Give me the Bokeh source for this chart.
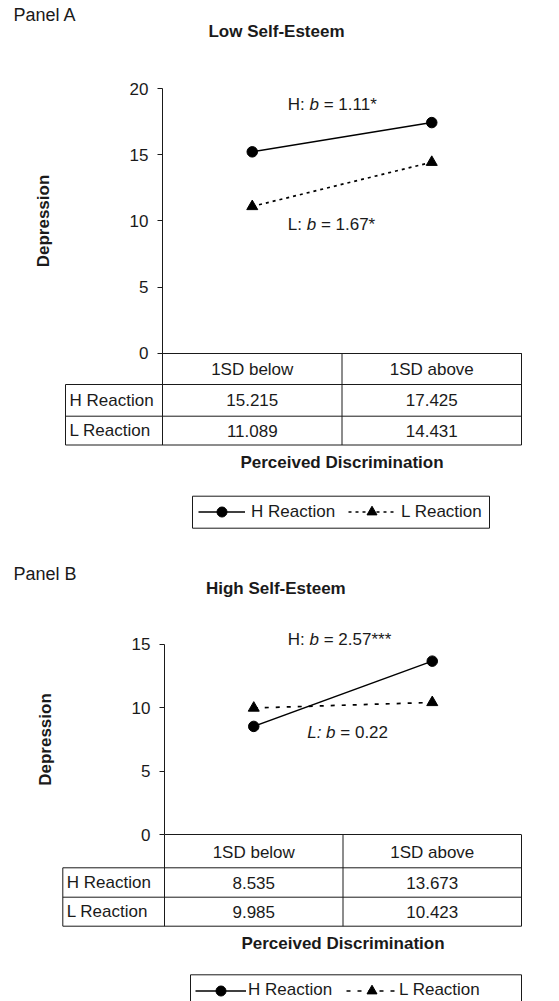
from bokeh.plotting import figure
from bokeh.layouts import column
from bokeh.models import ColumnDataSource, FixedTicker, LinearAxis, Range1d, Legend, LegendItem
from bokeh.core.properties import value
from bokeh.embed import file_html
from bokeh.resources import INLINE

FONT = "Liberation Sans"
INK = "#1a1a1a"

# ---------------- data ----------------
categories = ["1SD below", "1SD above"]
cat_pos = [0.5, 1.5]
row_labels = ["H Reaction", "L Reaction"]
x_title = "Perceived Discrimination"
y_title = "Depression"

panel_a_label = "Panel A"
panel_a_title = "Low Self-Esteem"
panel_a_h = [15.215, 17.425]
panel_a_l = [11.089, 14.431]
panel_a_ticks = [0, 5, 10, 15, 20]
panel_a_h_note = ["H: ", "b", " = 1.11*"]
panel_a_l_note = ["L: ", "b", " = 1.67*"]

panel_b_label = "Panel B"
panel_b_title = "High Self-Esteem"
panel_b_h = [8.535, 13.673]
panel_b_l = [9.985, 10.423]
panel_b_ticks = [0, 5, 10, 15]
panel_b_h_note = ["H: ", "b", " = 2.57***"]
panel_b_l_note = ["L: ", "b", " = 0.22"]

W = 559
FS = 17
EM = {"H": .722, "L": .556, ":": .278, " ": .278, "b": .556, "=": .584, ".": .278, "*": .389}


def text_width(s):
    return sum(EM.get(c, .556) for c in s) * FS


def make_panel(label, title, hv, lv, ticks, h_note, l_note, L, dash, l_italic_prefix):
    H = L["height"]
    ax, right, zero, unit = L["axis_x"], L["right"], L["zero"], L["unit"]
    xu = (right - ax) / 2.0

    def dx(px):
        return (px - ax) / xu

    def dy(py):
        return (zero - py) / unit

    p = figure(width=W, height=H, output_backend="svg", toolbar_location=None,
               x_axis_type=None, y_axis_type=None,
               x_range=Range1d(dx(0), dx(W)), y_range=Range1d(dy(H), dy(0)),
               min_border=0, min_border_left=0, min_border_right=0,
               min_border_top=0, min_border_bottom=0)
    p.outline_line_color = None
    p.xgrid.visible = False
    p.ygrid.visible = False
    p.background_fill_color = "white"

    # y axis
    yaxis = LinearAxis(fixed_location=0, ticker=FixedTicker(ticks=ticks, minor_ticks=[]),
                       bounds=(0, ticks[-1]), axis_label=y_title)
    yaxis.axis_line_color = INK
    yaxis.major_tick_line_color = INK
    yaxis.major_tick_out = 5
    yaxis.major_tick_in = 0
    yaxis.minor_tick_out = 0
    yaxis.minor_tick_in = 0
    yaxis.major_label_standoff = 9
    yaxis.major_label_text_font = FONT
    yaxis.major_label_text_font_size = f"{FS}px"
    yaxis.major_label_text_color = INK
    yaxis.axis_label_text_font = FONT
    yaxis.axis_label_text_font_size = f"{FS}px"
    yaxis.axis_label_text_font_style = "bold"
    yaxis.axis_label_text_color = INK
    yaxis.axis_label_standoff = L["ylab_standoff"]
    p.add_layout(yaxis, "left")

    # x axis (category header of the table)
    xaxis = LinearAxis(fixed_location=0, ticker=FixedTicker(ticks=cat_pos, minor_ticks=[]),
                       bounds=(0, 2), axis_label=x_title,
                       major_label_overrides={cat_pos[0]: categories[0], cat_pos[1]: categories[1]})
    xaxis.axis_line_color = INK
    xaxis.major_tick_out = 0
    xaxis.major_tick_in = 0
    xaxis.minor_tick_out = 0
    xaxis.minor_tick_in = 0
    xaxis.major_label_standoff = L["xtick_standoff"]
    xaxis.major_label_text_font = FONT
    xaxis.major_label_text_font_size = f"{FS}px"
    xaxis.major_label_text_color = INK
    xaxis.axis_label_text_font = FONT
    xaxis.axis_label_text_font_size = f"{FS}px"
    xaxis.axis_label_text_font_style = "bold"
    xaxis.axis_label_text_color = INK
    xaxis.axis_label_standoff = L["xlab_standoff"]
    p.add_layout(xaxis, "below")

    # table grid
    r = [dy(zero + v) for v in L["rows"]]
    lc = dx(L["left_col"])
    x0s = [lc, lc, lc, 0, 1, 2, lc]
    x1s = [2, 2, 2, 0, 1, 2, lc]
    y0s = [r[1], r[2], r[3], r[0], r[0], r[0], r[1]]
    y1s = [r[1], r[2], r[3], r[3], r[3], r[3], r[3]]
    p.segment(x0=x0s, y0=y0s, x1=x1s, y1=y1s, line_color=INK, line_width=1)

    # table text
    vals = [f"{v:.3f}" for v in hv] + [f"{v:.3f}" for v in lv]
    rc = [(r[1] + r[2]) / 2, (r[2] + r[3]) / 2]
    src = ColumnDataSource(dict(x=cat_pos + cat_pos, y=[rc[0], rc[0], rc[1], rc[1]], t=vals))
    p.text(x="x", y="y", text="t", source=src, text_font=value(FONT), text_font_size=f"{FS}px",
           text_align="center", text_baseline="middle", text_color=INK)
    p.text(x=[lc, lc], y=rc, text=row_labels, x_offset=4, text_font=value(FONT),
           text_font_size=f"{FS}px", text_align="left", text_baseline="middle", text_color=INK)

    # lines and markers
    h_line = p.line(cat_pos, hv, line_color="black", line_width=1.5)
    h_pts = p.scatter(cat_pos, hv, marker="circle", size=10.5, fill_color="black", line_color="black")
    l_line = p.line(cat_pos, lv, line_color="black", line_width=1.7, line_dash=dash)
    l_pts = p.scatter(cat_pos, lv, marker="triangle", size=11, fill_color="black", line_color="black")

    # panel label and title
    p.text(x=[dx(L["plabel"][0])], y=[dy(L["plabel"][1])], text=[label], text_font=value(FONT),
           text_font_size="18px", text_align="left", text_baseline="middle", text_color=INK)
    p.text(x=[dx(L["title"][0])], y=[dy(L["title"][1])], text=[title], text_font=value(FONT),
           text_font_size=f"{FS}px", text_font_style="bold", text_align="center",
           text_baseline="middle", text_color=INK)

    # slope notes with italic b
    space = EM[" "] * FS
    for note, pos, ital_first in ((h_note, L["hnote"], False), (l_note, L["lnote"], l_italic_prefix)):
        off = 0.0
        for i, piece in enumerate(note):
            style = "italic" if (i == 1 or (i == 0 and ital_first)) else "normal"
            core = piece.strip()
            off += (len(piece) - len(piece.lstrip())) * space
            p.text(x=[dx(pos[0])], y=[dy(pos[1])], text=[core], x_offset=off,
                   text_font=value(FONT), text_font_size=f"{FS}px", text_font_style=style,
                   text_align="left", text_baseline="middle", text_color=INK)
            off += text_width(core) + (len(piece) - len(piece.rstrip())) * space

    # legend frame
    lg = L["legend"]
    p.quad(left=[dx(lg["left"])], right=[dx(lg["right"])], top=[dy(lg["top"])],
           bottom=[dy(lg["top"] + 32)], fill_alpha=0, line_color=INK, line_width=1)
    pad, gh = 4, 25
    lh = 2 * pad + gh
    center = lg["top"] + 16
    legend = Legend(items=[LegendItem(label=row_labels[0], renderers=[h_line, h_pts]),
                           LegendItem(label=row_labels[1], renderers=[l_line, l_pts])],
                    orientation="horizontal",
                    location=(lg["glyph_x"] - pad, H - (center + lh / 2)),
                    glyph_width=lg["gw"], glyph_height=gh, label_height=gh,
                    label_standoff=lg["standoff"], spacing=lg["spacing"], padding=pad, margin=0,
                    border_line_alpha=0, background_fill_alpha=0, label_text_font=FONT,
                    label_text_font_size=f"{FS}px", label_text_color=INK)
    p.add_layout(legend)
    return p


layout_a = dict(height=535, axis_x=162, right=521, zero=352.7, unit=13.235, left_col=65,
                rows=[0, 31.3, 63, 91.8], ylab_standoff=74, xtick_standoff=7, xlab_standoff=70,
                plabel=(13, 14.5), title=(276, 31), hnote=(287.3, 104), lnote=(287.3, 224),
                legend=dict(left=192, right=489, top=495.7, glyph_x=198, gw=47, standoff=6,
                            spacing=13))
layout_b = dict(height=466, axis_x=164, right=521, zero=299.3, unit=12.7, left_col=62.3,
                rows=[0, 33, 62.4, 91.4], ylab_standoff=74, xtick_standoff=8, xlab_standoff=69,
                plabel=(13, 38), title=(275.3, 53), hnote=(287.3, 104), lnote=(306.7, 196.7),
                legend=dict(left=190, right=521, top=439.3, glyph_x=195, gw=51, standoff=2,
                            spacing=14))

pa = make_panel(panel_a_label, panel_a_title, panel_a_h, panel_a_l, panel_a_ticks,
                panel_a_h_note, panel_a_l_note, layout_a, "3 4", False)
pb = make_panel(panel_b_label, panel_b_title, panel_b_h, panel_b_l, panel_b_ticks,
                panel_b_h_note, panel_b_l_note, layout_b, "4 7", True)

page = column(pa, pb, spacing=0)
open("out.html", "w").write(file_html(page, INLINE))
